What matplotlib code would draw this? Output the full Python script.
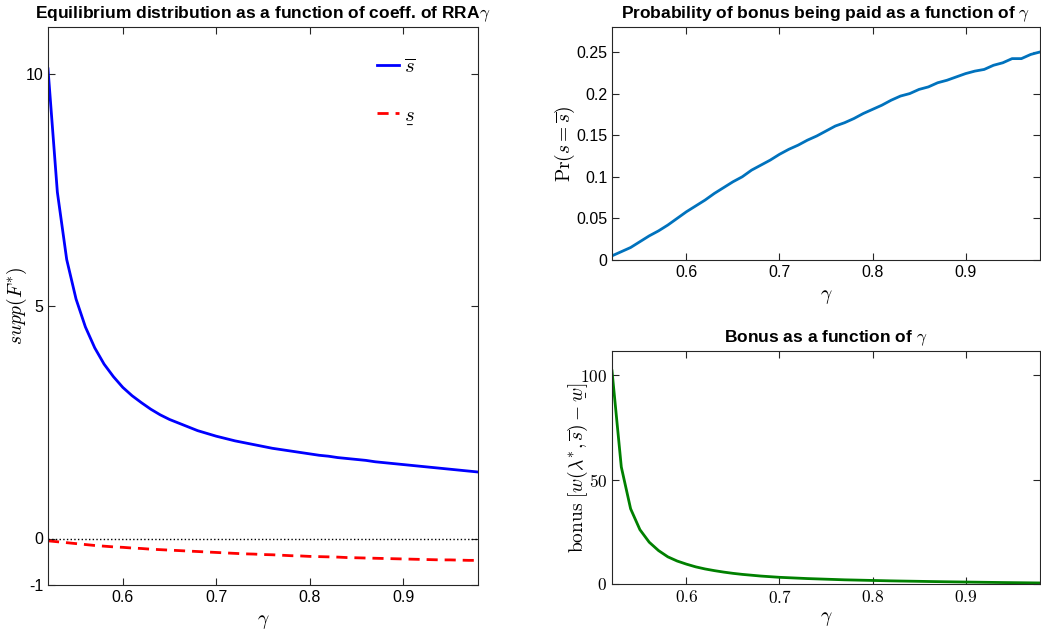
import numpy as np
import matplotlib
matplotlib.use("Agg")
import matplotlib.pyplot as plt
from matplotlib.mathtext import MathTextParser

plt.rcParams['font.family'] = ['Liberation Sans', 'DejaVu Sans']
plt.rcParams['mathtext.fontset'] = 'cm'

gamma = [0.52, 0.53, 0.54, 0.55, 0.56, 0.57, 0.58, 0.59, 0.60, 0.61, 0.62, 0.63,
         0.64, 0.65, 0.66, 0.67, 0.68, 0.69, 0.70, 0.71, 0.72, 0.73, 0.74, 0.75,
         0.76, 0.77, 0.78, 0.79, 0.80, 0.81, 0.82, 0.83, 0.84, 0.85, 0.86, 0.87,
         0.88, 0.89, 0.90, 0.91, 0.92, 0.93, 0.94, 0.95, 0.96, 0.97, 0.98]

s_upper = [10.1, 7.45, 6.0, 5.15, 4.55, 4.1, 3.75, 3.48, 3.25, 3.07, 2.92, 2.78,
           2.66, 2.56, 2.48, 2.40, 2.32, 2.26, 2.20, 2.15, 2.10, 2.06, 2.02, 1.98,
           1.94, 1.91, 1.88, 1.85, 1.82, 1.79, 1.77, 1.74, 1.72, 1.70, 1.68, 1.65,
           1.63, 1.61, 1.59, 1.57, 1.55, 1.53, 1.51, 1.49, 1.47, 1.45, 1.43]

s_lower = [-0.05, -0.07, -0.09, -0.11, -0.13, -0.15, -0.165, -0.18, -0.19, -0.205, -0.215, -0.23,
           -0.24, -0.25, -0.26, -0.27, -0.28, -0.29, -0.30, -0.31, -0.32, -0.33, -0.335, -0.345,
           -0.35, -0.36, -0.37, -0.375, -0.385, -0.39, -0.395, -0.40, -0.41, -0.415, -0.42, -0.425,
           -0.43, -0.435, -0.44, -0.445, -0.45, -0.455, -0.46, -0.46, -0.465, -0.47, -0.47]

prob_bonus = [0.005, 0.010, 0.015, 0.022, 0.029, 0.035, 0.042, 0.050, 0.058, 0.065, 0.072, 0.080,
              0.087, 0.094, 0.100, 0.108, 0.114, 0.120, 0.127, 0.133, 0.138, 0.144, 0.149, 0.155,
              0.161, 0.165, 0.170, 0.176, 0.181, 0.186, 0.192, 0.197, 0.200, 0.205, 0.208, 0.213,
              0.216, 0.220, 0.224, 0.227, 0.229, 0.234, 0.237, 0.242, 0.242, 0.247, 0.250]

bonus = [102, 56, 36, 26, 20, 16, 13, 11, 9.5, 8.2, 7.2, 6.4,
         5.7, 5.1, 4.6, 4.2, 3.8, 3.5, 3.2, 3.0, 2.8, 2.6, 2.45, 2.3,
         2.15, 2.0, 1.9, 1.8, 1.7, 1.6, 1.5, 1.42, 1.35, 1.28, 1.2, 1.13,
         1.06, 1.0, 0.94, 0.88, 0.82, 0.76, 0.7, 0.65, 0.6, 0.55, 0.5]

xticks = [0.6, 0.7, 0.8, 0.9]
xticklabels = ['0.6', '0.7', '0.8', '0.9']


def first_ok(cands):
    p = MathTextParser('agg')
    for c in cands:
        try:
            p.parse(c, 100)
            return c
        except Exception:
            continue
    return cands[-1]


ul_s = first_ok([r'$\underset{\_}{s}$', r'$s$'])
ylabel3 = first_ok([r'$\mathrm{bonus}\ [w(\lambda^{*},\overline{s})-\underset{\_}{w}]$',
                    r'$\mathrm{bonus}\ [w(\lambda^{*},\overline{s})-w]$'])

W, H = 1041, 632
fig = plt.figure(figsize=(W / 100, H / 100), dpi=100)


def px_axes(x0, y0, x1, y1):
    return fig.add_axes([x0 / W, 1 - y1 / H, (x1 - x0) / W, (y1 - y0) / H])


def style(ax):
    for sp in ax.spines.values():
        sp.set_color('#262626')
        sp.set_linewidth(0.8)
    ax.tick_params(direction='in', top=True, right=True, length=5, width=0.8,
                   colors='#262626', labelcolor='black', labelsize=11.5)


# Left panel
ax1 = px_axes(48, 27, 478, 585)
ax1.plot(gamma, s_upper, color='#0000ff', lw=2, label=r'$\overline{s}$')
ax1.plot(gamma, s_lower, color='#ff0000', lw=2, dashes=(4, 2.5), label=ul_s)
ax1.axhline(0, color='black', lw=1, ls=':')
ax1.set_xlim(0.52, 0.98)
ax1.set_ylim(-1, 11)
ax1.set_yticks([-1, 0, 5, 10])
ax1.set_yticklabels(['-1', '0', '5', '10'])
ax1.set_xticks(xticks)
ax1.set_xticklabels(xticklabels)
ax1.set_xlabel(r'$\gamma$', fontsize=14, labelpad=6)
ax1.set_ylabel(r'$supp(F^{*})$', fontsize=14)
ax1.yaxis.set_label_coords(-0.045, 0.5)
ax1.set_title(r'Equilibrium distribution as a function of coeff. of RRA$\gamma$',
              fontsize=12.5, fontweight='bold', pad=6)
ax1.legend(loc='upper right', bbox_to_anchor=(0.898, 0.979), frameon=False, fontsize=15,
           handlelength=1.1, handletextpad=0.2, labelspacing=1.4)
style(ax1)

# Top-right panel
ax2 = px_axes(612, 27, 1040, 260)
ax2.plot(gamma, prob_bonus, color='#0072BD', lw=2)
ax2.set_xlim(0.52, 0.98)
ax2.set_ylim(0, 0.28)
ax2.set_yticks([0, 0.05, 0.1, 0.15, 0.2, 0.25])
ax2.set_yticklabels(['0', '0.05', '0.1', '0.15', '0.2', '0.25'])
ax2.set_xticks(xticks)
ax2.set_xticklabels(xticklabels)
ax2.set_xlabel(r'$\gamma$', fontsize=14, labelpad=6)
ax2.set_ylabel(r'$\mathrm{Pr}(s=\overline{s})$', fontsize=14)
ax2.yaxis.set_label_coords(-0.082, 0.5)
ax2.set_title(r'Probability of bonus being paid as a function of $\gamma$',
              fontsize=12.5, fontweight='bold', pad=6)
style(ax2)

# Bottom-right panel
ax3 = px_axes(612, 351, 1040, 584)
ax3.plot(gamma, bonus, color='#008000', lw=2)
ax3.set_xlim(0.52, 0.98)
ax3.set_ylim(0, 111.5)
ax3.set_yticks([0, 50, 100])
ax3.set_yticklabels(['$0$', '$50$', '$100$'])
ax3.set_xticks(xticks)
ax3.set_xticklabels(['$0.6$', '$0.7$', '$0.8$', '$0.9$'])
ax3.set_xlabel(r'$\gamma$', fontsize=14, labelpad=3)
ax3.set_ylabel(ylabel3, fontsize=14)
ax3.yaxis.set_label_coords(-0.052, 0.5)
ax3.set_title(r'Bonus as a function of $\gamma$', fontsize=12.5, fontweight='bold', pad=6)
style(ax3)
ax3.tick_params(labelsize=12.5)

fig.savefig('out.png', dpi=100)
